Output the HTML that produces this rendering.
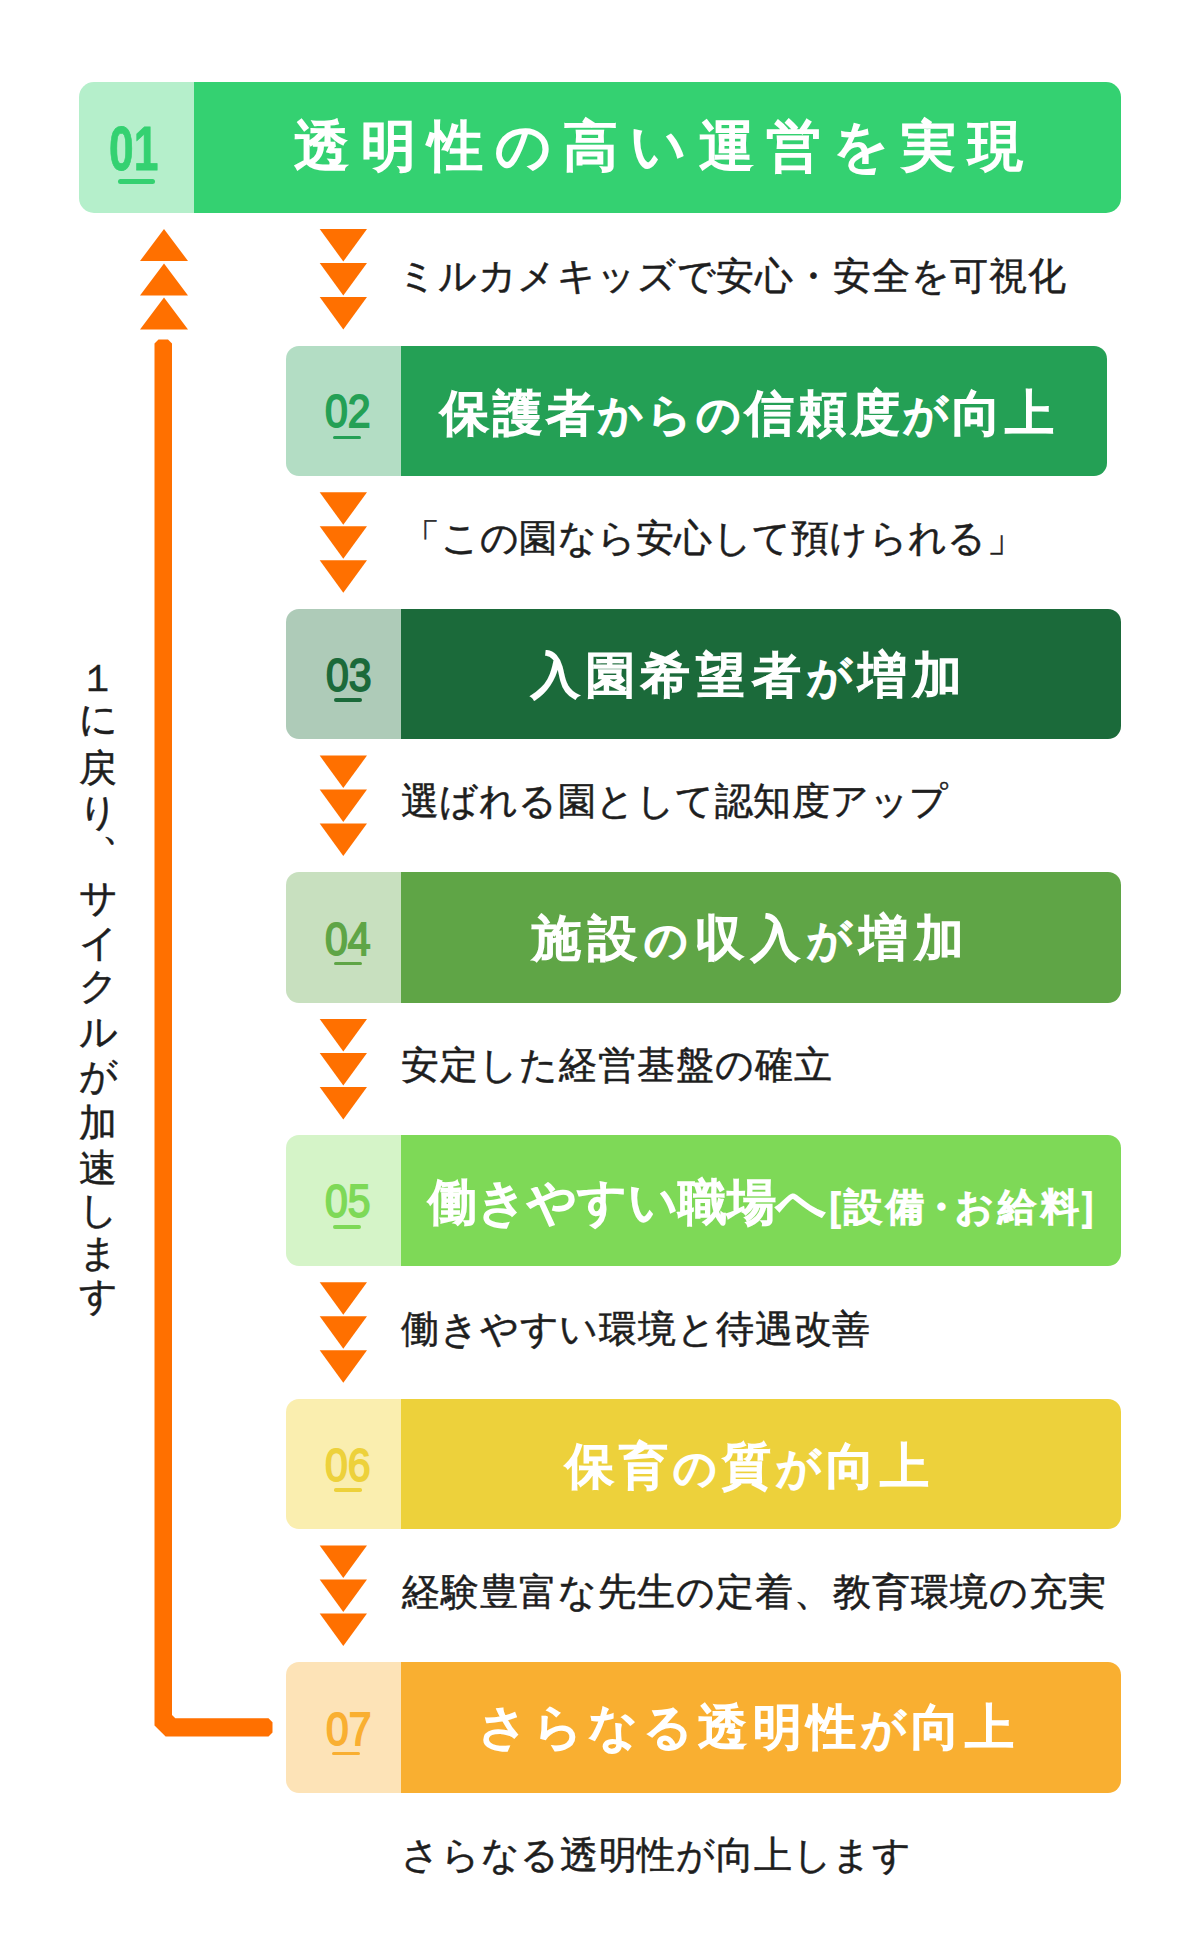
<!DOCTYPE html>
<html lang="ja">
<head>
<meta charset="utf-8">
<style>
html,body{margin:0;padding:0;background:#fff;}
body{width:1201px;height:1951px;position:relative;overflow:hidden;font-family:"Liberation Sans",sans-serif;}
.box{position:absolute;height:130.5px;border-radius:13px;overflow:hidden;}
.box .num{position:absolute;left:0;top:0;bottom:0;width:115px;}
.box .dk{position:absolute;left:115px;top:0;bottom:0;right:0;}
.h{position:absolute;color:#fff;font-weight:normal;white-space:nowrap;line-height:1;-webkit-text-stroke:2.2px #fff;}
.s{font-size:90%;}
.n{position:absolute;font-weight:normal;line-height:1;white-space:nowrap;-webkit-text-stroke:1.8px currentColor;transform-origin:0 0;}
.u{position:absolute;height:4px;border-radius:2px;}
.sub{position:absolute;left:402px;font-size:38px;color:#1e1e1e;white-space:nowrap;line-height:1;-webkit-text-stroke:0.5px #1e1e1e;}
.vt{position:absolute;left:78px;top:655.5px;width:40px;font-size:38px;color:#1e1e1e;line-height:44.3px;text-align:center;-webkit-text-stroke:0.5px #1e1e1e;}
</style>
</head>
<body>

<svg style="position:absolute;left:0;top:0" width="1201" height="1951">
  <g fill="#FF7000">
    <polygon points="140,261 188,261 164,229"/>
    <polygon points="140,295.5 188,295.5 164,263.5"/>
    <polygon points="140,329.5 188,329.5 164,297.5"/>
    <path d="M154.5 343.5 L158.5 339.5 L168 339.5 L172 343.5 L172 1715 L175.3 1718.2 L268.5 1718.2 L272.5 1722.2 L272.5 1732.5 L268.5 1736.5 L165.6 1736.5 L154.5 1725.6 Z"/>
    <polygon points="319.7,229 367,229 343.3,261.5"/>
    <polygon points="319.7,263 367,263 343.3,295.5"/>
    <polygon points="319.7,297 367,297 343.3,329.5"/>
    <polygon points="319.7,492.3 367,492.3 343.3,524.8"/>
    <polygon points="319.7,526.3 367,526.3 343.3,558.8"/>
    <polygon points="319.7,560.3 367,560.3 343.3,592.8"/>
    <polygon points="319.7,755.6 367,755.6 343.3,788.1"/>
    <polygon points="319.7,789.6 367,789.6 343.3,822.1"/>
    <polygon points="319.7,823.6 367,823.6 343.3,856.1"/>
    <polygon points="319.7,1019 367,1019 343.3,1051.5"/>
    <polygon points="319.7,1053 367,1053 343.3,1085.5"/>
    <polygon points="319.7,1087 367,1087 343.3,1119.5"/>
    <polygon points="319.7,1282.3 367,1282.3 343.3,1314.8"/>
    <polygon points="319.7,1316.3 367,1316.3 343.3,1348.8"/>
    <polygon points="319.7,1350.3 367,1350.3 343.3,1382.8"/>
    <polygon points="319.7,1545.6 367,1545.6 343.3,1578.1"/>
    <polygon points="319.7,1579.6 367,1579.6 343.3,1612.1"/>
    <polygon points="319.7,1613.6 367,1613.6 343.3,1646.1"/>
  </g>
</svg>

<div class="box" style="left:79px;top:82px;width:1042px;height:131px;border-radius:15px;"><div class="num" style="background:#B5EFCB"></div><div class="dk" style="background:#34D171"></div></div>
<div class="box" style="left:286px;top:345.5px;width:821px;"><div class="num" style="background:#B3DDC4"></div><div class="dk" style="background:#24A055"></div></div>
<div class="box" style="left:286px;top:608.75px;width:835px;"><div class="num" style="background:#AECBB8"></div><div class="dk" style="background:#1B6A3A"></div></div>
<div class="box" style="left:286px;top:872px;width:835px;"><div class="num" style="background:#C8E0BF"></div><div class="dk" style="background:#5FA546"></div></div>
<div class="box" style="left:286px;top:1135.3px;width:835px;"><div class="num" style="background:#D5F4C8"></div><div class="dk" style="background:#7ED957"></div></div>
<div class="box" style="left:286px;top:1398.6px;width:835px;"><div class="num" style="background:#FAEEAF"></div><div class="dk" style="background:#EDD13B"></div></div>
<div class="box" style="left:286px;top:1662px;width:835px;"><div class="num" style="background:#FDE3B7"></div><div class="dk" style="background:#F9AF31"></div></div>

<!-- numbers -->
<div class="n" id="n1" style="font-weight:bold;-webkit-text-stroke:0.8px currentColor;left:109.2px;top:118px;font-size:62.2px;color:#34D171;transform:scaleX(0.713)">01</div>
<div class="u" style="left:118px;top:179px;width:37px;height:5px;border-radius:2.5px;background:#34D171"></div>
<div class="n" id="n2" style="left:325px;top:388px;font-size:46.38px;color:#24A055;transform:scaleX(0.884)">02</div>
<div class="u" style="left:333px;top:435.5px;width:28px;height:3.5px;border-radius:1.8px;background:#24A055"></div>
<div class="n" id="n3" style="left:326px;top:652px;font-size:46.37px;color:#1B6A3A;transform:scaleX(0.885)">03</div>
<div class="u" style="left:333.7px;top:698px;width:28.3px;height:4px;border-radius:2.0px;background:#1B6A3A"></div>
<div class="n" id="n4" style="left:325.4px;top:915.6px;font-size:46.6px;color:#5FA546;transform:scaleX(0.882)">04</div>
<div class="u" style="left:334.1px;top:961.6px;width:27.9px;height:3.4px;border-radius:1.7px;background:#5FA546"></div>
<div class="n" id="n5" style="left:325.4px;top:1178px;font-size:46.5px;color:#7ED957;transform:scaleX(0.881)">05</div>
<div class="u" style="left:333.3px;top:1225px;width:28.2px;height:3.8px;border-radius:1.9px;background:#7ED957"></div>
<div class="n" id="n6" style="left:325.4px;top:1441.6px;font-size:46.45px;color:#EDD13B;transform:scaleX(0.882)">06</div>
<div class="u" style="left:334px;top:1488.2px;width:28px;height:3.6px;border-radius:1.8px;background:#EDD13B"></div>
<div class="n" id="n7" style="left:326px;top:1706px;font-size:46.27px;color:#F9AF31;transform:scaleX(0.88)">07</div>
<div class="u" style="left:332.4px;top:1751.7px;width:27.6px;height:3.7px;border-radius:1.9px;background:#F9AF31"></div>

<!-- headings -->
<div class="h" id="h1" style="left:294px;top:119px;font-size:55px;letter-spacing:12.1px">透明性の高い運営を実現</div>
<div class="h" id="h2" style="left:440px;top:389px;font-size:49px;letter-spacing:3.82px">保護者<span class="s">からの</span>信頼度<span class="s">が</span>向上</div>
<div class="h" id="h3" style="left:531px;top:651.2px;font-size:49px;letter-spacing:6.15px">入園希望者<span class="s">が</span>増加</div>
<div class="h" id="h4" style="left:532px;top:914.3px;font-size:49px;letter-spacing:6.93px">施設<span style="font-size:88%">の</span>収入<span class="s">が</span>増加</div>
<div class="h" id="h5" style="left:428px;top:1178px;font-size:49px;letter-spacing:0.16px">働きやすい職場へ</div>
<div class="h" id="h5b" style="left:829.4px;top:1187.6px;font-size:38px;letter-spacing:4.26px">[設備<span style="margin-left:-7px;margin-right:-9px">・</span>お給料]</div>
<div class="h" id="h6" style="left:565px;top:1442.2px;font-size:49px;letter-spacing:4.99px">保育<span style="font-size:88%">の</span>質<span class="s">が</span>向上</div>
<div class="h" id="h7" style="left:478px;top:1703px;font-size:49px;letter-spacing:5.11px">さらなる透明性<span class="s">が</span>向上</div>

<!-- subtitles -->
<div class="sub" id="s1" style="top:257px;left:398px;font-size:38px;letter-spacing:0.81px">ミルカメキッズで安心・安全を可視化</div>
<div class="sub" id="s2" style="top:519.4px;left:402.4px;font-size:38px;letter-spacing:0.28px">「この園なら安心して預けられる」</div>
<div class="sub" id="s3" style="top:782px;left:401px;font-size:38px;letter-spacing:0.46px">選ばれる園として認知度アップ</div>
<div class="sub" id="s4" style="top:1046px;left:400.6px;font-size:38px;letter-spacing:1px">安定した経営基盤の確立</div>
<div class="sub" id="s5" style="top:1309.5px;left:401.4px;font-size:38px;letter-spacing:0.73px">働きやすい環境と待遇改善</div>
<div class="sub" id="s6" style="top:1573px;left:401.6px;font-size:38px;letter-spacing:1px">経験豊富な先生の定着、教育環境の充実</div>
<div class="sub" id="s7" style="top:1836.4px;left:401.4px;font-size:38px;letter-spacing:0.64px">さらなる透明性が向上します</div>

<div class="vt">１<br><span style="position:relative;top:-2.8px">に</span><br><span style="position:relative;top:1.5px">戻</span><br><span style="position:relative;top:1.3px">り</span><br><span style="position:relative;left:23px;top:-28px">、</span><br><span style="position:relative;top:-0.75px">サ</span><br><span style="position:relative;top:-0.6px">イ</span><br><span style="position:relative;top:-1.1px">ク</span><br>ル<br><span style="position:relative;top:-0.65px">が</span><br><span style="position:relative;top:2.6px">加</span><br><span style="position:relative;top:2.8px">速</span><br><span style="position:relative;top:0.95px">し</span><br>ま<br><span style="position:relative;top:-1.3px">す</span></div>

</body>
</html>
